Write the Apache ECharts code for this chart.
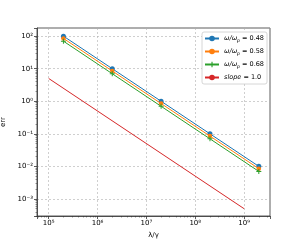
<!DOCTYPE html>
<html><head><meta charset="utf-8">
<script src="https://cdn.jsdelivr.net/npm/echarts@6/dist/echarts.min.js"></script>
<style>html,body{margin:0;padding:0;background:#fff}#c{width:300px;height:245px}</style>
</head><body><div id="c"></div>
<script>
const xVals = [2e5, 2e6, 2e7, 2e8, 2e9];
const err048 = [100, 10, 1, 0.1, 0.01];
const err058 = [85, 8.5, 0.85, 0.085, 0.0085];
const err068 = [70, 7.0, 0.70, 0.070, 0.0070];
const slopeX = [1e5, 1e9];
const slopeY = [5, 5e-4];
const seriesNames = ['0.48', '0.58', '0.68'];

const sup = {'0':'⁰','1':'¹','2':'²','3':'³','4':'⁴','5':'⁵','6':'⁶','7':'⁷','8':'⁸','9':'⁹','-':'⁻'};
function fmt(v){
  const e = Math.round(Math.log10(v));
  return '10' + String(e).split('').map(c=>sup[c]).join('');
}
const zip = (xs, ys) => xs.map((x,i)=>[x, ys[i]]);
const plus = 'path://M4,0h2v4h4v2h-4v4h-2v-4h-4v-2h4z';
const colors = ['#1f77b4','#ff7f0e','#2ca02c','#d62728'];

const chart = echarts.init(document.getElementById('c'), null, {renderer:'canvas'});
const tickFont = {fontFamily:'DejaVu Sans', fontSize:7, color:'#000'};
chart.setOption({
  animation:false,
  grid:{left:37, right:30, top:28, bottom:29, outerBoundsMode:'none', containLabel:false, show:true, borderColor:'#333', borderWidth:0.8, backgroundColor:'#fff'},
  legend:{
    orient:'vertical', right:33, top:32, itemWidth:14, itemHeight:7, itemGap:5,
    backgroundColor:'#fff', borderColor:'#ccc', borderWidth:0.8, borderRadius:2, padding:[3,3,3,2],
    textStyle:{fontFamily:'DejaVu Sans', fontSize:6.5, color:'#000',
      rich:{i:{fontStyle:'italic', fontSize:6.5, fontFamily:'DejaVu Sans'}, s:{fontStyle:'italic', fontSize:4.5, fontFamily:'DejaVu Sans', verticalAlign:'bottom', padding:[4,0,0,0]}}},
    formatter: function(name){
      if (name.indexOf('slope')===0) return '{i|slope} = 1.0';
      return '{i|ω/ω}{s|p} = ' + name.split('=')[1];
    },
    data:['w=0.48','w=0.58','w=0.68','slope']
  },
  xAxis:{
    type:'log', logBase:10, min:Math.pow(10,4.76), max:Math.pow(10,9.53),
    name:'λ/γ', nameLocation:'middle', nameGap:15, nameTextStyle:{fontFamily:'DejaVu Sans', fontSize:7, color:'#000'},
    axisLine:{show:true, lineStyle:{color:'#333', width:0.8}},
    axisTick:{show:true, length:3, lineStyle:{color:'#333', width:0.8}},
    minorTick:{show:true, splitNumber:9, length:1.5, lineStyle:{color:'#333', width:0.5}},
    axisLabel:{...tickFont, margin:4, formatter:fmt, showMinLabel:false, showMaxLabel:false},
    splitLine:{show:true, lineStyle:{color:'#b0b0b0', type:[2,2], width:0.6}}
  },
  yAxis:{
    type:'log', logBase:10, min:Math.pow(10,-3.525), max:Math.pow(10,2.25),
    name:'err', nameLocation:'middle', nameGap:24, nameTextStyle:{fontFamily:'DejaVu Sans', fontSize:7, color:'#000'},
    axisLine:{show:true, lineStyle:{color:'#333', width:0.8}},
    axisTick:{show:true, length:3, lineStyle:{color:'#333', width:0.8}},
    minorTick:{show:true, splitNumber:9, length:1.5, lineStyle:{color:'#333', width:0.5}},
    axisLabel:{...tickFont, margin:4, formatter:fmt, showMinLabel:false, showMaxLabel:false},
    splitLine:{show:true, lineStyle:{color:'#b0b0b0', type:[2,2], width:0.6}}
  },
  series:[
    {name:'w=0.48', type:'line', data:zip(xVals, err048), color:colors[0], symbol:'circle', symbolSize:5, lineStyle:{width:1}, z:3},
    {name:'w=0.58', type:'line', data:zip(xVals, err058), color:colors[1], symbol:'circle', symbolSize:4.5, lineStyle:{width:1}, z:4},
    {name:'w=0.68', type:'line', data:zip(xVals, err068), color:colors[2], symbol:plus, symbolSize:5, lineStyle:{width:1}, z:5},
    {name:'slope', type:'line', data:zip(slopeX, slopeY), color:colors[3], symbol:'none', lineStyle:{width:1}, z:2}
  ]
});
</script></body></html>
